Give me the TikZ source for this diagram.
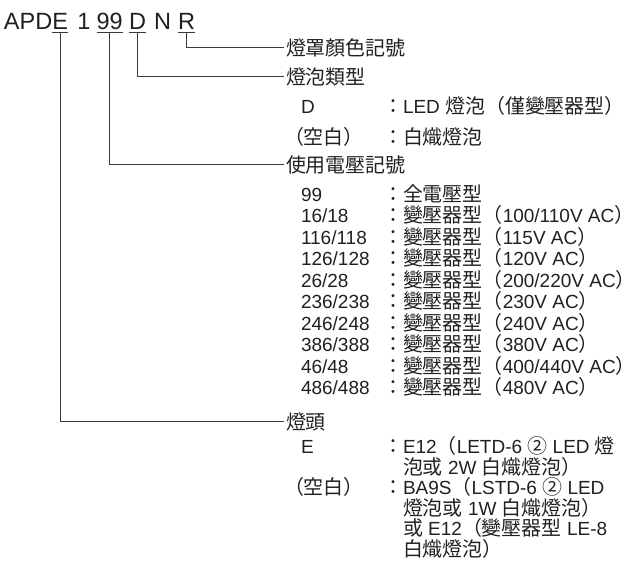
\documentclass[tikz,border=0pt]{standalone}
\usepackage{fontspec}
\setmainfont{Liberation Sans}
\newfontfamily\cjk[Scale=1.05]{Noto Sans CJK JP}
\usetikzlibrary{calc}
\definecolor{txt}{HTML}{231F20}
\definecolor{linec}{HTML}{3A3A3A}
\newcommand\zh[1]{{\cjk #1}}
\newcommand\lfont{\fontsize{19}{20}\selectfont}
\newcommand\tfont{\fontsize{23.5}{24}\selectfont}
\tikzset{
  lbl/.style={inner sep=0pt, outer sep=0pt, anchor=base west, font=\lfont, text=txt},
  ttl/.style={lbl, font=\tfont},
  hdr/.style={lbl, text height=18pt, text depth=2pt, outer sep=2pt},
  conn/.style={draw=linec, line width=0.9pt},
}
\begin{document}
\begin{tikzpicture}[x=1pt, y=-1pt]
\useasboundingbox (0,0) rectangle (641,566);
% title
\node[ttl] (tA) at (4,29) {APD};
\node[ttl] (tE) at (52.3,29) {E};
\node[ttl] (t1) at (77.5,29) {1};
\node[ttl] (t9) at (96.5,29) {99};
\node[ttl] (tD) at (129,29) {D};
\node[ttl] (tN) at (154,29) {N};
\node[ttl] (tR) at (178,29) {R};
\foreach \n in {tE,t9,tD,tR}{
  \draw[conn] ($(\n.base west)+(0,3.5)$) -- ($(\n.base east)+(0,3.5)$);
  \coordinate (u\n) at ($(\n.base)+(0,3.5)$);
}
% headers
\node[hdr] (h1) at (284,55) {\zh{燈罩顏色記號}};
\node[hdr] (h2) at (284,84) {\zh{燈泡類型}};
\node[hdr] (h3) at (284,172) {\zh{使用電壓記號}};
\node[hdr] (h4) at (284,429) {\zh{燈頭}};
\draw[conn] (utR) |- (h1.west);
\draw[conn] (utD) |- (h2.west);
\draw[conn] (ut9) |- (h3.west);
\draw[conn] (utE) |- (h4.west);
% section 1
\node[lbl] (k1) at (301,113.5) {D};
\node[lbl] (c1) at (383,113.5) {\zh{：}};
\node[lbl] (v1) at (403,113.5) {LED \zh{燈泡（僅變壓器型）}};
\node[lbl] (k2) at (284,144) {\zh{（空白）}};
\node[lbl] (c2) at (383,144) {\zh{：}};
\node[lbl] (v2) at (403,144) {\zh{白熾燈泡}};
% section 2
\foreach \k/\v [count=\i from 0] in {
  99/{\zh{全電壓型}},
  16\slash 18/{\zh{變壓器型（}100/110V AC\zh{）}},
  116\slash 118/{\zh{變壓器型（}115V AC\zh{）}},
  126\slash 128/{\zh{變壓器型（}120V AC\zh{）}},
  26\slash 28/{\zh{變壓器型（}200/220V AC\zh{）}},
  236\slash 238/{\zh{變壓器型（}230V AC\zh{）}},
  246\slash 248/{\zh{變壓器型（}240V AC\zh{）}},
  386\slash 388/{\zh{變壓器型（}380V AC\zh{）}},
  46\slash 48/{\zh{變壓器型（}400/440V AC\zh{）}},
  486\slash 488/{\zh{變壓器型（}480V AC\zh{）}}}{
  \node[lbl] (vk\i) at (301,201+21.5*\i) {\k};
  \node[lbl] (vc\i) at (383,201+21.5*\i) {\zh{：}};
  \node[lbl] (vv\i) at (403,201+21.5*\i) {\v};
}
% section 3
\node[lbl] (k3) at (301,453.5) {E};
\node[lbl] (c3) at (383,453.5) {\zh{：}};
\node[lbl] (v3a) at (403,453.5) {E12\zh{（}LETD-6 \zh{②} LED \zh{燈}};
\node[lbl] (v3b) at (403,474) {\zh{泡或} 2W \zh{白熾燈泡）}};
\node[lbl] (k4) at (284,494.5) {\zh{（空白）}};
\node[lbl] (c4) at (383,494.5) {\zh{：}};
\node[lbl] (v4a) at (403,494.5) {BA9S\zh{（}LSTD-6 \zh{②} LED};
\node[lbl] (v4b) at (403,515) {\zh{燈泡或} 1W \zh{白熾燈泡）}};
\node[lbl] (v4c) at (403,535.5) {\zh{或} E12\zh{（變壓器型} LE-8};
\node[lbl] (v4d) at (403,556) {\zh{白熾燈泡）}};
\end{tikzpicture}
\end{document}
